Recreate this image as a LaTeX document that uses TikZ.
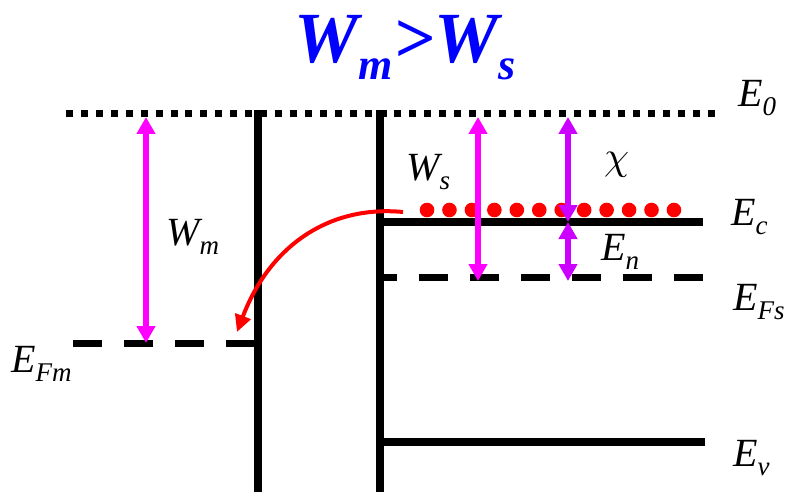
\documentclass[tikz,border=0pt]{standalone}
\usepackage{fontspec}
\setmainfont{Liberation Serif}
\usetikzlibrary{arrows.meta}
\definecolor{mag}{HTML}{FF00FF}
\definecolor{vio}{HTML}{CC00FF}
\definecolor{ttl}{HTML}{0000FF}
\newcommand{\lab}[2]{{\fontsize{40}{40}\selectfont\itshape #1}\raisebox{-9pt}{\fontsize{27}{27}\selectfont\itshape #2}}
\begin{document}
\begin{tikzpicture}[x=1pt,y=-1pt,
  level/.style={line width=7.5pt,black},
  vline/.style={line width=7.5pt,black},
  dotline/.style={line width=6.5pt,dash pattern=on 7pt off 7.93pt},
  dashline/.style={line width=7pt,dash pattern=on 29pt off 22pt},
  dblarrow/.style={line width=6pt,{Triangle[length=17pt,width=18pt]}-{Triangle[length=17pt,width=18pt]}},
  lbl/.style={inner sep=0pt,anchor=base west}]
\useasboundingbox (0,0) rectangle (792,492);
% coordinates
\coordinate (e0a) at (66,113.5);
\coordinate (e0b) at (715,113.5);
\coordinate (l1t) at (258,110);
\coordinate (l1b) at (258,492);
\coordinate (l2t) at (380,110);
\coordinate (l2b) at (380,492);
\coordinate (eca) at (376.5,222);
\coordinate (ecb) at (703,222);
\coordinate (efsa) at (380,277);
\coordinate (efsb) at (705,277);
\coordinate (eva) at (376.5,442);
\coordinate (evb) at (705,442);
\coordinate (efma) at (73,343);
\coordinate (efmb) at (258,343);
% levels
\draw[dotline] (e0a) -- (e0b);
\draw[vline] (l1t) -- (l1b);
\draw[vline] (l2t) -- (l2b);
\draw[level] (eca) -- (ecb);
\draw[level] (eva) -- (evb);
\draw[dashline,dash phase=12pt] (efsa) -- (efsb);
\draw[dashline] (efma) -- (efmb);
% electrons
\foreach \i in {0,...,11}{\fill[red] ({427+22.45*\i},210) circle (7.3pt);}
% arrows
\coordinate (wmt) at (146,117);
\coordinate (wmb) at (146,343);
\coordinate (wst) at (478,117);
\coordinate (wsb) at (478,281);
\coordinate (cht) at (568,117);
\coordinate (chb) at (568,222);
\coordinate (enb) at (568,281);
\draw[dblarrow,mag] (wmt) -- (wmb);
\draw[dblarrow,mag] (wst) -- (wsb);
\draw[dblarrow,vio] (cht) -- (chb);
\draw[dblarrow,vio] (chb) -- (enb);
% red curved arrow
\coordinate (rs) at (403,212);
\coordinate (re) at (237,332);
\draw[red,line width=4pt,-{Triangle[length=17pt,width=16pt]}] (rs) .. controls (330,205) and (270,245) .. (re);
% labels
\node[lbl] (tE0) at (738,107) {\lab{E}{0}};
\node[lbl] (tEc) at (731,225) {\lab{E}{c}};
\node[lbl] (tEFs) at (733,310) {\lab{E}{Fs}};
\node[lbl] (tEv) at (733,466) {\lab{E}{v}};
\node[lbl] (tEFm) at (11,372) {\lab{E}{Fm}};
\node[lbl] (tWm) at (166,245) {\lab{W}{m}};
\node[lbl] (tWs) at (406,180) {\lab{W}{s}};
\node[lbl] (tEn) at (601,260) {\lab{E}{n}};
\node[lbl] (tchi) at (604,169) {\scalebox{4.0}{$\chi$}};
\node[inner sep=0pt,anchor=base,text=ttl] (title) at (405,63) {\bfseries\itshape\fontsize{72}{72}\selectfont W\raisebox{-17pt}{\fontsize{44}{44}\selectfont m}>W\raisebox{-17pt}{\fontsize{44}{44}\selectfont s}};
\end{tikzpicture}
\end{document}
